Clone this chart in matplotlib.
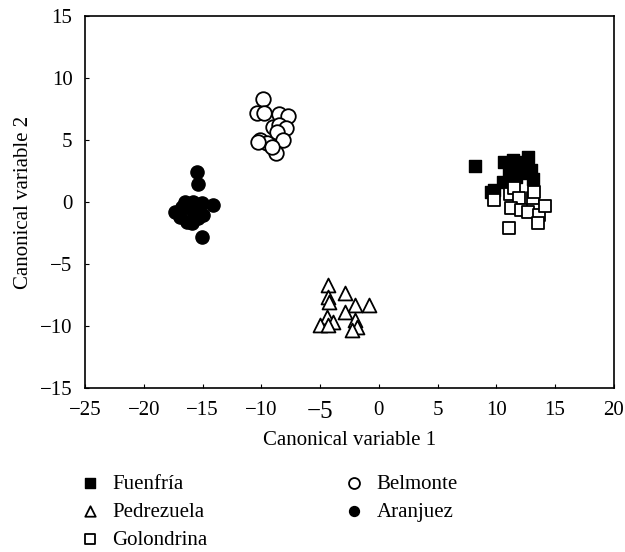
import numpy as np
import matplotlib
matplotlib.use('Agg')
import matplotlib.pyplot as plt

plt.rcParams['font.family'] = ['Liberation Serif', 'DejaVu Serif']

# canonical scores
fuenfria_x = [8.16, 10.64, 11.40, 12.68, 12.08, 12.94, 13.11, 11.06, 10.55, 9.78, 9.53, 11.66, 11.83, 12.51, 11.23]
fuenfria_y = [2.90, 3.23, 3.39, 3.63, 2.82, 2.58, 1.85, 2.42, 1.61, 0.97, 0.81, 2.02, 3.23, 2.34, 1.21]

pedrezuela_x = [-4.28, -4.28, -4.20, -2.83, -1.98, -0.87, -2.83, -4.37, -3.86, -4.97, -1.98, -1.81, -2.24, -4.28]
pedrezuela_y = [-6.69, -7.66, -8.06, -7.34, -8.31, -8.31, -8.87, -9.27, -9.68, -9.92, -9.52, -10.08, -10.32, -9.92]

golondrina_x = [9.78, 11.15, 11.49, 11.91, 11.23, 12.08, 12.68, 13.11, 13.19, 13.62, 14.13, 13.53, 11.06]
golondrina_y = [0.16, 0.65, 1.13, 0.32, -0.48, -0.65, -0.81, 0.32, 0.81, -1.05, -0.32, -1.69, -2.10]

belmonte_x = [-9.83, -10.34, -9.74, -8.46, -7.69, -8.97, -8.46, -7.86, -8.63, -10.08, -9.48, -8.12, -8.72, -9.06, -10.25]
belmonte_y = [8.31, 7.18, 7.18, 7.10, 6.94, 6.05, 6.21, 5.97, 5.65, 5.00, 4.76, 5.00, 3.95, 4.44, 4.84]

aranjuez_x = [-15.45, -15.37, -15.03, -14.09, -16.47, -15.79, -15.03, -17.33, -16.90, -16.30, -15.88, -15.37, -14.94, -15.88, -16.73, -15.45]
aranjuez_y = [2.42, 1.45, -2.82, -0.24, 0.00, 0.00, -0.08, -0.81, -1.21, -1.61, -1.69, -1.29, -1.05, -0.65, -0.40, -0.81]

fig = plt.figure(figsize=(6.25, 5.52), dpi=100)
ax = fig.add_axes([0.136, 0.297, 0.846, 0.674])

ax.scatter(fuenfria_x, fuenfria_y, marker='s', s=80, c='black', edgecolors='black', label='Fuenfría', zorder=3)
ax.scatter(pedrezuela_x, pedrezuela_y, marker='^', s=100, facecolors='white', edgecolors='black', linewidths=1.3, label='Pedrezuela', zorder=3)
ax.scatter(golondrina_x, golondrina_y, marker='s', s=80, facecolors='white', edgecolors='black', linewidths=1.3, label='Golondrina', zorder=3)
ax.scatter(belmonte_x, belmonte_y, marker='o', s=110, facecolors='white', edgecolors='black', linewidths=1.3, label='Belmonte', zorder=3)
ax.scatter(aranjuez_x, aranjuez_y, marker='o', s=90, c='black', edgecolors='black', label='Aranjuez', zorder=3)

ax.set_xlim(-25, 20)
ax.set_ylim(-15, 15)
ax.set_xticks(np.arange(-25, 21, 5))
ax.set_yticks(np.arange(-15, 16, 5))
ax.tick_params(direction='in', length=3, labelsize=15)
ax.tick_params(axis='x', pad=9)
ax.tick_params(axis='y', pad=9)
for lbl in ax.get_xticklabels():
    if lbl.get_text() == '−5':
        lbl.set_fontsize(18)
for sp in ax.spines.values():
    sp.set_linewidth(1.2)

ax.set_xlabel('Canonical variable 1', fontsize=15, labelpad=6)
ax.set_ylabel('Canonical variable 2', fontsize=15, labelpad=5)

fig.legend(loc='upper left', bbox_to_anchor=(0.131, 0.141), ncol=2, frameon=False,
           fontsize=15, handlelength=0.8, handletextpad=0.66, columnspacing=6.65,
           labelspacing=0.4, markerscale=0.75, borderpad=0, borderaxespad=0)

fig.savefig('out.png', dpi=100)
